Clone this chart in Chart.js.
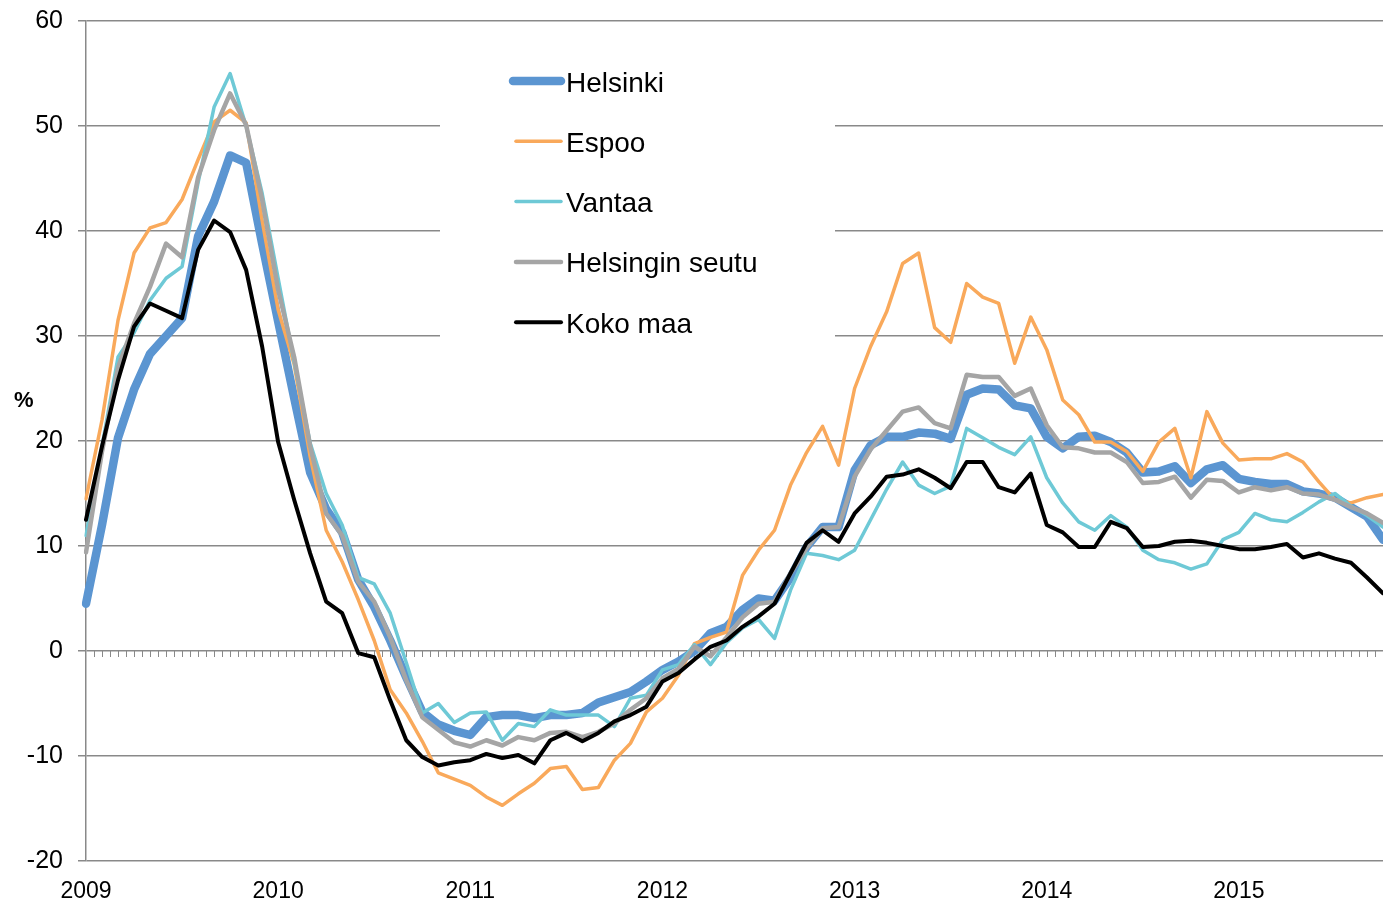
<!DOCTYPE html>
<html>
<head>
<meta charset="utf-8">
<script src="https://cdn.jsdelivr.net/npm/chart.js@4"></script>
<style>
  html, body { margin: 0; padding: 0; background: #fff; }
  #wrap { width: 1383px; height: 904px; }
</style>
</head>
<body>
<div id="wrap"><canvas id="myChart" width="1383" height="904"></canvas></div>
<script>
// month labels 2009-01 .. 2015-10
var months = [];
for (var yr = 2009; yr <= 2015; yr++) {
    for (var m = 1; m <= 12; m++) {
        months.push(yr + '-' + (m < 10 ? '0' + m : m));
    }
}
months = months.slice(0, 82);

var helsinki = [4.5, 12.0, 20.3, 24.9, 28.3, 30.0, 31.7, 39.5, 42.8, 47.2,
    46.5, 38.8, 31.4, 24.1, 17.0, 13.5, 11.3, 6.8, 4.2, 1.0,
    -2.5, -5.8, -7.0, -7.6, -8.0, -6.3, -6.1, -6.1, -6.4, -6.1,
    -6.1, -5.9, -4.9, -4.4, -3.9, -2.9, -1.8, -1.0, 0.0, 1.7,
    2.3, 3.9, 5.0, 4.8, 7.0, 9.9, 11.8, 11.8, 17.2, 19.6,
    20.4, 20.4, 20.8, 20.7, 20.2, 24.4, 25.0, 24.9, 23.4, 23.1,
    20.4, 19.3, 20.4, 20.5, 19.9, 18.9, 17.0, 17.1, 17.6, 16.0,
    17.3, 17.7, 16.4, 16.1, 15.9, 15.9, 15.2, 15.0, 14.6, 13.7,
    12.8, 10.6];

var espoo = [14.5, 22.0, 31.5, 37.9, 40.3, 40.8, 43.0, 46.8, 50.4, 51.5,
    50.3, 41.0, 32.5, 27.3, 18.5, 11.5, 8.5, 4.9, 1.0, -3.7,
    -5.9, -8.6, -11.6, -12.2, -12.8, -13.9, -14.7, -13.6, -12.6, -11.2,
    -11.0, -13.2, -13.0, -10.4, -8.8, -5.8, -4.5, -2.3, 0.7, 1.3,
    1.8, 7.2, 9.6, 11.5, 15.8, 18.9, 21.4, 17.7, 25.0, 29.0,
    32.3, 36.9, 37.9, 30.8, 29.4, 35.0, 33.7, 33.1, 27.4, 31.8,
    28.7, 23.9, 22.5, 19.9, 19.9, 19.0, 17.1, 19.9, 21.2, 16.5,
    22.8, 19.8, 18.2, 18.3, 18.3, 18.8, 18.0, 16.1, 14.4, 14.1,
    14.6, 14.9];

var vantaa = [11.0, 19.5, 28.0, 30.3, 33.4, 35.5, 36.6, 44.6, 51.8, 55.0,
    50.0, 43.6, 35.5, 27.5, 19.8, 15.0, 12.0, 7.0, 6.4, 3.6,
    -1.1, -5.9, -5.0, -6.8, -5.9, -5.8, -8.5, -6.9, -7.2, -5.6,
    -6.1, -6.1, -6.1, -7.2, -4.5, -4.2, -1.8, -1.3, 0.6, -1.3,
    0.8, 2.2, 3.0, 1.2, 5.8, 9.3, 9.1, 8.7, 9.6, 12.5,
    15.4, 18.0, 15.8, 15.0, 15.7, 21.2, 20.3, 19.4, 18.7, 20.4,
    16.5, 14.1, 12.3, 11.5, 12.9, 11.8, 9.6, 8.7, 8.4, 7.8,
    8.3, 10.6, 11.3, 13.1, 12.5, 12.3, 13.2, 14.2, 15.0, 13.8,
    12.9, 11.8];

var seutu = [9.4, 19.0, 27.0, 31.2, 34.7, 38.8, 37.5, 45.1, 49.6, 53.1,
    50.1, 43.0, 34.4, 28.0, 19.5, 13.1, 11.0, 6.6, 4.7, 1.3,
    -2.8, -6.3, -7.5, -8.7, -9.1, -8.5, -9.0, -8.2, -8.5, -7.8,
    -7.7, -8.2, -7.7, -6.9, -5.6, -4.5, -2.6, -1.7, 0.4, -0.5,
    1.3, 3.2, 4.5, 4.7, 7.4, 9.8, 11.7, 11.8, 16.6, 19.2,
    21.0, 22.8, 23.2, 21.7, 21.2, 26.3, 26.1, 26.1, 24.3, 25.0,
    21.5, 19.4, 19.3, 18.9, 18.9, 18.0, 16.0, 16.1, 16.6, 14.6,
    16.3, 16.2, 15.1, 15.6, 15.3, 15.6, 15.0, 14.9, 14.4, 13.7,
    13.1, 12.2];

var kokoMaa = [12.5, 19.5, 25.8, 30.9, 33.1, 32.4, 31.7, 38.2, 41.0, 39.9,
    36.3, 29.0, 19.9, 14.4, 9.3, 4.7, 3.6, -0.2, -0.6, -4.7,
    -8.5, -10.1, -10.9, -10.6, -10.4, -9.8, -10.2, -9.9, -10.7, -8.5,
    -7.8, -8.6, -7.8, -6.7, -6.1, -5.3, -2.9, -2.1, -0.8, 0.4,
    1.0, 2.3, 3.3, 4.5, 7.4, 10.3, 11.5, 10.4, 13.1, 14.7,
    16.6, 16.8, 17.3, 16.5, 15.5, 18.0, 18.0, 15.6, 15.1, 16.9,
    12.0, 11.3, 9.9, 9.9, 12.3, 11.7, 9.9, 10.0, 10.4, 10.5,
    10.3, 10.0, 9.7, 9.7, 9.9, 10.2, 8.9, 9.3, 8.8, 8.4,
    7.0, 5.5];

var yTicks = { min: -20, max: 60, step: 10 };
var fontFam = "Arial, 'Liberation Sans', sans-serif";
var gridGray = '#898989';

// white box behind the legend, hides the gridlines there
var legendBox = {
    id: 'legendBox',
    beforeDatasetsDraw: function(chart) {
        var ctx = chart.ctx;
        var xs = chart.scales.x, ys = chart.scales.y;
        ctx.save();
        ctx.fillStyle = '#fff';
        ctx.fillRect(440, 36, 395, 316);
        // small ticks on the zero line
        var y0 = ys.getPixelForValue(0);
        ctx.strokeStyle = gridGray;
        ctx.lineWidth = 1;
        ctx.beginPath();
        for (var i = 0.5; i <= months.length - 1; i += 0.5) {
            var px = Math.round(xs.getPixelForValue(i)) + 0.5;
            ctx.moveTo(px, y0);
            ctx.lineTo(px, y0 + 6);
        }
        ctx.stroke();
        // % label
        ctx.fillStyle = '#000';
        ctx.font = 'bold 22px ' + fontFam;
        ctx.textBaseline = 'alphabetic';
        ctx.fillText('%', 14, 407);
        ctx.restore();
    },
    afterDatasetsDraw: function(chart) {
        var ctx = chart.ctx;
        ctx.save();
        chart.data.datasets.forEach(function(ds, i) {
            var y = 81 + i * 60.3;
            ctx.strokeStyle = ds.borderColor;
            ctx.lineWidth = ds.borderWidth;
            ctx.lineCap = 'round';
            ctx.beginPath();
            ctx.moveTo(i === 0 ? 513 : 516, y);
            ctx.lineTo(561, y);
            ctx.stroke();
            ctx.fillStyle = '#000';
            ctx.font = '28px ' + fontFam;
            ctx.textBaseline = 'alphabetic';
            ctx.fillText(ds.label, 566, y + 10.5);
        });
        ctx.restore();
    }
};

var ctx = document.getElementById('myChart').getContext('2d');
var myLineChart = new Chart(ctx, {
    type: 'line',
    data: {
        labels: months,
        datasets: [
            { label: 'Helsinki', data: helsinki, borderColor: '#5b95d1', borderWidth: 8.5, order: 5 },
            { label: 'Espoo', data: espoo, borderColor: '#f9a95b', borderWidth: 3.5, order: 4 },
            { label: 'Vantaa', data: vantaa, borderColor: '#6ec9d6', borderWidth: 3.5, order: 3 },
            { label: 'Helsingin seutu', data: seutu, borderColor: '#a5a5a5', borderWidth: 4.5, order: 2 },
            { label: 'Koko maa', data: kokoMaa, borderColor: '#000000', borderWidth: 4, order: 1 }
        ]
    },
    options: {
        responsive: false,
        animation: false,
        devicePixelRatio: 1,
        layout: { padding: { top: 21, right: 0, left: 0, bottom: 0 } },
        elements: {
            point: { radius: 0, hoverRadius: 0 },
            line: { tension: 0, fill: false, borderJoinStyle: 'round', borderCapStyle: 'round' }
        },
        plugins: {
            legend: { display: false },
            tooltip: { enabled: false }
        },
        scales: {
            x: {
                type: 'category',
                offset: false,
                grid: { display: false },
                border: { display: false },
                ticks: {
                    autoSkip: false,
                    maxRotation: 0,
                    padding: 9,
                    color: '#000',
                    font: { size: 23, family: fontFam },
                    callback: function(v, i) {
                        return months[i].slice(5) === '01' ? months[i].slice(0, 4) : '';
                    }
                },
                afterFit: function(scale) {
                    scale.height = 43;
                    scale.paddingLeft = 0;
                    scale.paddingRight = 0;
                }
            },
            y: {
                min: yTicks.min,
                max: yTicks.max,
                ticks: {
                    stepSize: yTicks.step,
                    padding: 15,
                    color: '#000',
                    font: { size: 25, family: fontFam }
                },
                grid: { color: gridGray, lineWidth: 1.5, tickLength: 8 },
                border: { color: gridGray, width: 1.5 },
                afterFit: function(scale) {
                    scale.width = 86;
                    scale.paddingTop = 0;
                    scale.paddingBottom = 0;
                }
            }
        }
    },
    plugins: [legendBox]
});
</script>
</body>
</html>
